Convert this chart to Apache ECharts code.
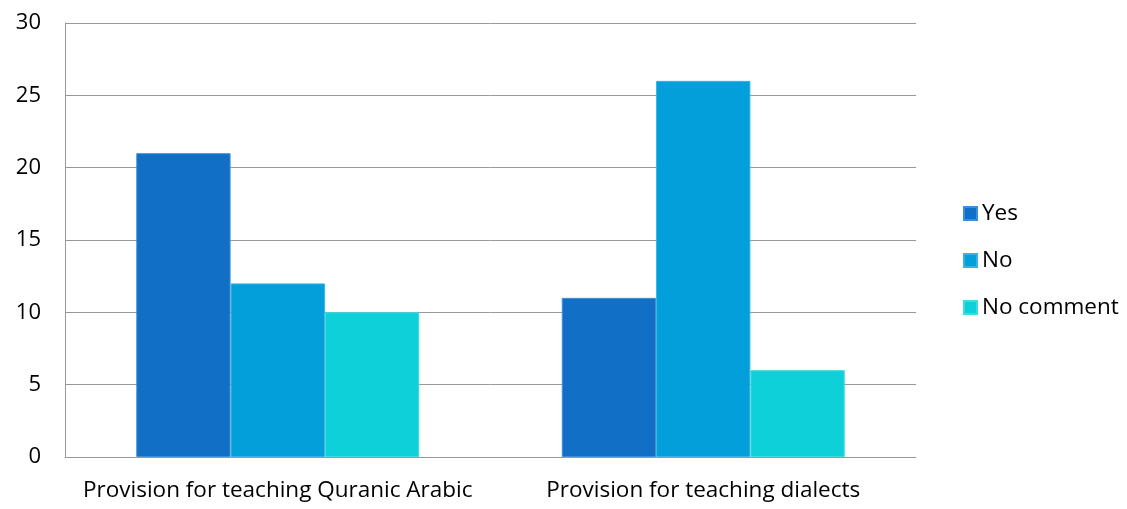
<!DOCTYPE html>
<html>
<head>
<meta charset="utf-8">
<script src="https://cdn.jsdelivr.net/npm/echarts@6/dist/echarts.min.js"></script>
<style>
  html, body { margin: 0; padding: 0; background: #fff; }
  #chart { width: 1127px; height: 509px; }
</style>
</head>
<body>
<div id="chart"></div>
<script>
const categories = ['Provision for teaching Quranic Arabic', 'Provision for teaching dialects'];
const seriesNames = ['Yes', 'No', 'No comment'];
const yesValues = [21, 11];
const noValues = [12, 26];
const noCommentValues = [10, 6];
const yTicks = [0, 5, 10, 15, 20, 25, 30];

const colors = ['#116FC6', '#039FDA', '#0DD0D9'];
const borderColors = ['#3F8FD8', '#35B3E3', '#3DDAE1'];
const fontFamily = '"Open Sans", Lato, sans-serif';

const chart = echarts.init(document.getElementById('chart'));
const values = [yesValues, noValues, noCommentValues];

chart.setOption({
  animation: false,
  color: colors,
  grid: { left: 65, right: 211, top: 23, bottom: 52, containLabel: false },
  legend: {
    orient: 'vertical',
    left: 958,
    top: 197,
    itemWidth: 13,
    itemHeight: 13,
    itemGap: 24,
    icon: 'rect',
    textStyle: { fontFamily, fontSize: 22.5, color: '#000', padding: [0, 0, 0, 0] },
    data: seriesNames
  },
  xAxis: {
    type: 'category',
    data: categories,
    axisLine: { show: true, lineStyle: { color: '#999', width: 1 } },
    axisTick: { show: false },
    axisLabel: { interval: 0, fontFamily, fontSize: 22.5, color: '#000', margin: 22 }
  },
  yAxis: {
    type: 'value',
    min: yTicks[0],
    max: yTicks[yTicks.length - 1],
    interval: 5,
    axisLine: { show: true, lineStyle: { color: '#999', width: 1 } },
    axisTick: { show: false },
    splitLine: { lineStyle: { color: '#999', width: 1 } },
    axisLabel: { fontFamily, fontSize: 22, color: '#000', margin: 24 }
  },
  series: seriesNames.map((name, i) => ({
    name,
    type: 'bar',
    data: values[i],
    barGap: '0%',
    barCategoryGap: '33.5%',
    itemStyle: { color: colors[i], borderColor: borderColors[i], borderWidth: 1 }
  }))
});
</script>
</body>
</html>
